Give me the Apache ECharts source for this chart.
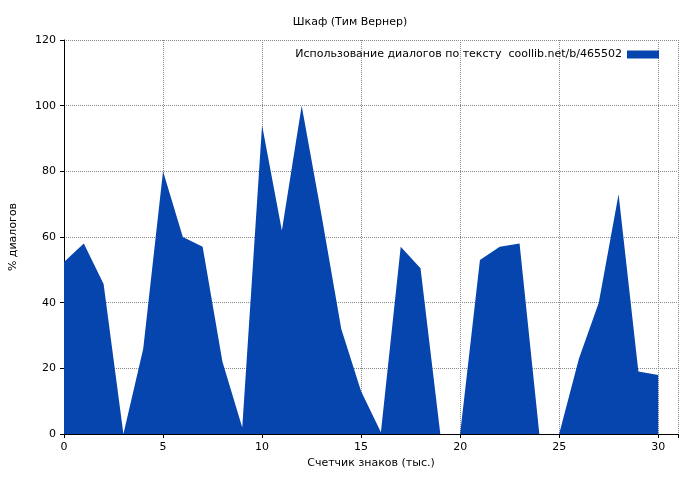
<!DOCTYPE html>
<html><head><meta charset="utf-8">
<script src="https://cdn.jsdelivr.net/npm/echarts@6/dist/echarts.min.js"></script>
<style>html,body{margin:0;padding:0;background:#fff}#c{width:700px;height:480px}</style>
</head><body><div id="c"></div>
<script>
var xValues = [0,1,2,3,4,5,6,7,8,9,10,11,12,13,14,15,16,17,18,19,20,21,22,23,24,25,26,27,28,29,30];
var usage = [52.4,58,45.7,0,26,80,60,57,22,2,94,62,100,66.7,32,13,0.5,57,50.5,0,0,53,57,58,0,0,23,40,73,19,18];
var seriesName = 'Использование диалогов по тексту  coollib.net/b/465502';
var chart = echarts.init(document.getElementById('c'));
var font = 'DejaVu Sans';
chart.setOption({
  animation:false,
  textStyle:{fontFamily:font},
  title:{text:'Шкаф (Тим Вернер)',left:'center',top:12,textStyle:{fontSize:11,fontWeight:'normal',color:'#000',fontFamily:font}},
  legend:{right:36,top:44,itemWidth:32,itemHeight:8,itemGap:6,align:'right',
    textStyle:{fontSize:11,color:'#000',fontFamily:font},
    data:[{name:seriesName,icon:'rect'}]},
  grid:{left:62,right:22,top:40,bottom:46},
  xAxis:{type:'value',min:0,max:31,interval:5,name:'Счетчик знаков (тыс.)',nameLocation:'middle',nameGap:22,
    nameTextStyle:{fontSize:11,color:'#000'},
    axisLine:{lineStyle:{color:'#000'}},axisTick:{show:true,length:4,inside:false},
    axisLabel:{fontSize:11,color:'#000',formatter:function(v){return v>30?'':v;}},
    splitLine:{lineStyle:{type:'dotted',color:'#888'}}},
  yAxis:{type:'value',min:0,max:120,interval:20,name:'% диалогов',nameLocation:'middle',nameGap:45,
    nameTextStyle:{fontSize:11,color:'#000'},
    axisLine:{show:true,lineStyle:{color:'#000'}},axisTick:{show:true,length:4},
    axisLabel:{fontSize:11,color:'#000'},
    splitLine:{lineStyle:{type:'dotted',color:'#888'}}},
  series:[{name:seriesName,type:'line',symbol:'none',
    data:xValues.map(function(x,i){return [x,usage[i]];}),
    lineStyle:{width:0,color:'#0645ad'},itemStyle:{color:'#0645ad'},
    areaStyle:{color:'#0645ad',opacity:1}}]
});
</script></body></html>
